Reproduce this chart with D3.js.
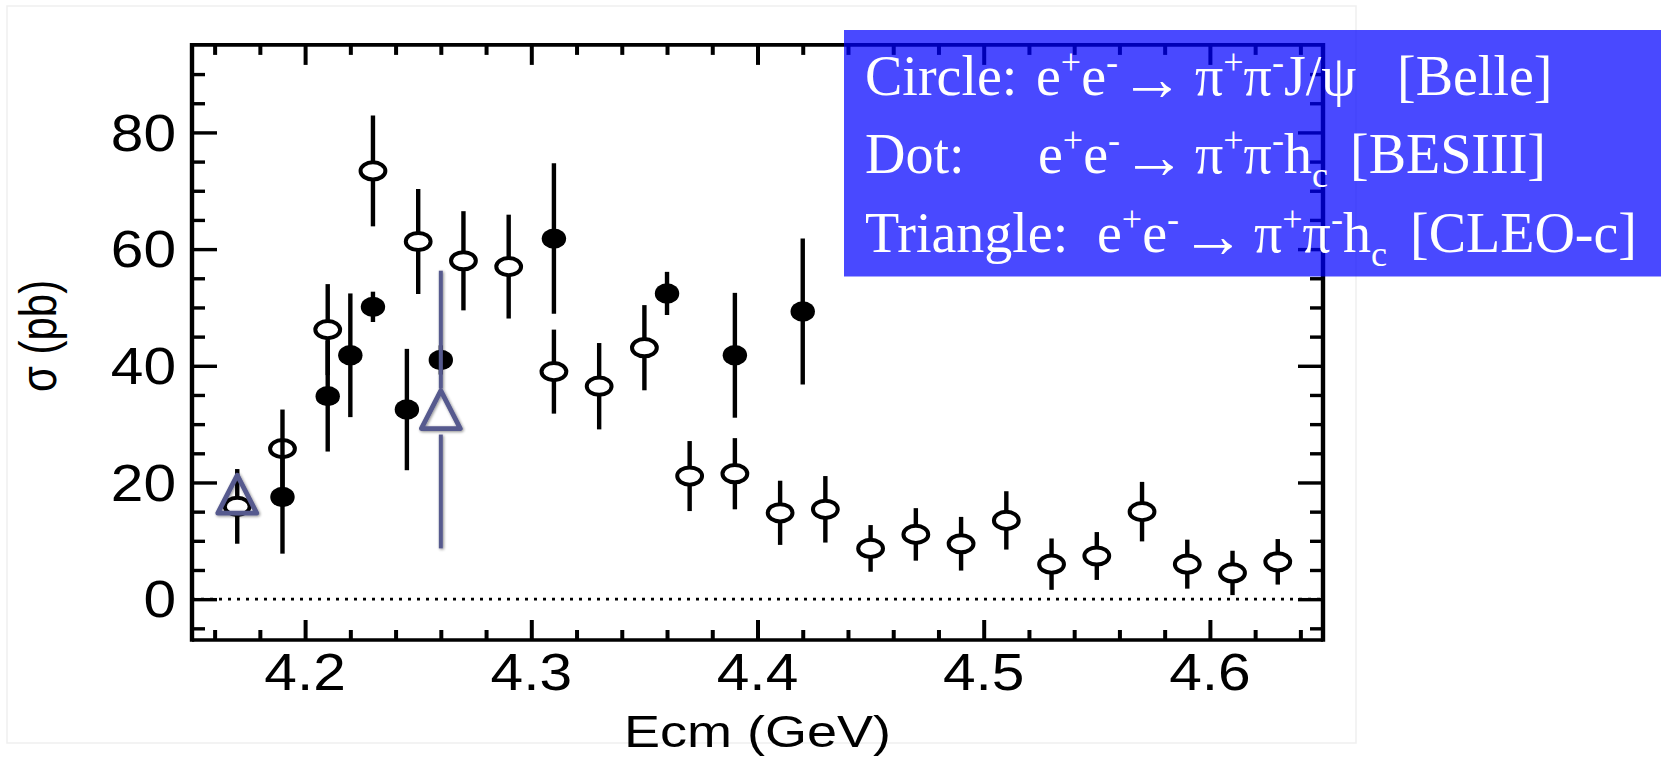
<!DOCTYPE html>
<html><head><meta charset="utf-8">
<script src="https://cdn.jsdelivr.net/npm/d3@7"></script>
<style>body{margin:0;background:#fff}svg{display:block}</style>
</head><body>
<svg id="c" width="1661" height="757"></svg>
<script>
// ---- data ----
const circleE     = [4.17,4.19,4.21,4.23,4.25,4.27,4.29,4.31,4.33,4.35,4.37,4.39,4.41,4.43,4.45,4.47,4.49,4.51,4.53,4.55,4.57,4.59,4.61,4.63];
const circleSigma = [15.9,25.8,46.2,73.4,61.3,58.0,57.0,39.0,36.5,43.1,21.1,21.5,14.8,15.4,8.7,11.1,9.5,13.5,6.0,7.4,15.0,6.0,4.5,6.4];
const circleErr   = [6.4,6.7,7.8,9.5,9.0,8.5,8.9,7.2,7.4,7.3,6.0,6.1,5.5,5.7,4.0,4.5,4.6,5.0,4.4,4.1,5.1,4.2,3.8,3.9];

const dotE     = [4.19,4.21,4.22,4.23,4.245,4.26,4.31,4.36,4.39,4.42];
const dotSigma = [17.5,34.8,41.8,50.1,32.5,41.0,61.8,52.4,41.8,49.3];
const dotErr   = [9.7,9.5,10.6,2.6,10.4,2.5,12.9,3.7,10.7,12.5];

const triE     = [4.17,4.26];
const triSigma = [18.0,32.5];
const triErr   = [2.0,23.8];

const xMajor = [4.2,4.3,4.4,4.5,4.6];
const xMinor = [4.16,4.18,4.22,4.24,4.26,4.28,4.32,4.34,4.36,4.38,4.42,4.44,4.46,4.48,4.52,4.54,4.56,4.58,4.62,4.64];
const yMajor = [0,20,40,60,80];
const yMinor = [-5,5,10,15,25,30,35,45,50,55,65,70,75,85,90];
const xLabels = ["4.2","4.3","4.4","4.5","4.6"];
const yLabels = ["0","20","40","60","80"];

const svg = d3.select("#c");
const L = 192, R = 1323, T = 44.9, B = 640;
const x = d3.scaleLinear().domain([4.15, 4.65]).range([L, R]);
const y = d3.scaleLinear().domain([-7, 95]).range([B, T]);

// faint slide border
svg.append("rect").attr("x",7).attr("y",6).attr("width",1349).attr("height",737)
  .attr("fill","none").attr("stroke","#efefef").attr("stroke-width",1.5);

const defs = svg.append("defs");
const f = defs.append("filter").attr("id","sh").attr("x","-30%").attr("y","-30%").attr("width","160%").attr("height","160%");
f.append("feGaussianBlur").attr("in","SourceAlpha").attr("stdDeviation",1.6).attr("result","b");
f.append("feOffset").attr("in","b").attr("dx",0.5).attr("dy",1).attr("result","o");
f.append("feComponentTransfer").attr("in","o").attr("result","o2")
  .append("feFuncA").attr("type","linear").attr("slope",0.45);
const fm = f.append("feMerge"); fm.append("feMergeNode").attr("in","o2"); fm.append("feMergeNode").attr("in","SourceGraphic");

// zero dotted line
svg.append("line").attr("x1",x(4.15)).attr("x2",x(4.65)).attr("y1",y(0)).attr("y2",y(0))
  .attr("stroke","#000").attr("stroke-width",2.6).attr("stroke-dasharray","3,6");

// axes (inward ticks on all four sides)
function axis(gen, tr, vals, size, sw){
  const g = svg.append("g").attr("transform",tr)
    .call(gen.tickValues(vals).tickSize(size).tickFormat(""));
  g.select(".domain").remove();
  g.selectAll(".tick line").attr("stroke","#000").attr("stroke-width",sw);
  return g;
}
axis(d3.axisBottom(x), `translate(0,${B})`, xMajor, -20, 4);
axis(d3.axisBottom(x), `translate(0,${B})`, xMinor, -10, 4);
axis(d3.axisTop(x), `translate(0,${T})`, xMajor, -20, 4);
axis(d3.axisTop(x), `translate(0,${T})`, xMinor, -10, 4);
axis(d3.axisLeft(y), `translate(${L},0)`, yMajor, -25, 3.4);
axis(d3.axisLeft(y), `translate(${L},0)`, yMinor, -13, 3.4);
axis(d3.axisRight(y), `translate(${R},0)`, yMajor, -25, 3.4);
axis(d3.axisRight(y), `translate(${R},0)`, yMinor, -13, 3.4);

// frame
const fr = svg.append("g").attr("stroke","#000");
fr.append("line").attr("x1",L).attr("x2",R).attr("y1",T).attr("y2",T).attr("stroke-width",3.6);
fr.append("line").attr("x1",L).attr("x2",R).attr("y1",B).attr("y2",B).attr("stroke-width",3.6);
fr.append("line").attr("x1",L).attr("x2",L).attr("y1",T-1.8).attr("y2",B+1.8).attr("stroke-width",4.4);
fr.append("line").attr("x1",R).attr("x2",R).attr("y1",T-1.8).attr("y2",B+1.8).attr("stroke-width",4.4);

// tick labels
const sans = "'Liberation Sans', Arial, Helvetica, sans-serif";
svg.append("g").selectAll("text").data(xMajor).join("text")
  .attr("transform", (d)=>`translate(${x(d)},690) scale(1.15,1)`)
  .attr("text-anchor","middle").attr("font-family",sans).attr("font-size",51)
  .text((d,i)=>xLabels[i]);
svg.append("g").selectAll("text").data(yMajor).join("text")
  .attr("transform", (d)=>`translate(176,${y(d)+18.2}) scale(1.15,1)`)
  .attr("text-anchor","end").attr("font-family",sans).attr("font-size",51)
  .text((d,i)=>yLabels[i]);

// axis titles
svg.append("text").attr("transform",`translate(${(L+R)/2},747) scale(1.2,1)`)
  .attr("text-anchor","middle").attr("font-family",sans).attr("font-size",45).text("Ecm (GeV)");
svg.append("text").attr("transform",`translate(56,336) scale(1.22,1) rotate(-90)`)
  .attr("text-anchor","middle").attr("font-family",sans).attr("font-size",42).text("σ (pb)");

// ---- markers ----
const cRx = 12.4, cRy = 8.6, dRx = 12.2, dRy = 10.2;
const circles = circleE.map((e,i)=>({e, s:circleSigma[i], err:circleErr[i]}));
const dots = dotE.map((e,i)=>({e, s:dotSigma[i], err:dotErr[i]}));
const tris = triE.map((e,i)=>({e, s:triSigma[i], err:triErr[i]}));

const gc = svg.append("g");
gc.selectAll("line").data(circles).join("line")
  .attr("x1",d=>x(d.e)).attr("x2",d=>x(d.e)).attr("y1",d=>y(d.s+d.err)).attr("y2",d=>y(d.s-d.err))
  .attr("stroke","#000").attr("stroke-width",4.4);
gc.selectAll("ellipse").data(circles).join("ellipse")
  .attr("cx",d=>x(d.e)).attr("cy",d=>y(d.s)).attr("rx",cRx).attr("ry",cRy)
  .attr("fill","#fff").attr("stroke","#000").attr("stroke-width",4);

const gd = svg.append("g");
gd.selectAll("line").data(dots).join("line")
  .attr("x1",d=>x(d.e)).attr("x2",d=>x(d.e)).attr("y1",d=>y(d.s+d.err)).attr("y2",d=>y(d.s-d.err))
  .attr("stroke","#000").attr("stroke-width",4.4);
gd.selectAll("ellipse").data(dots).join("ellipse")
  .attr("cx",d=>x(d.e)).attr("cy",d=>y(d.s)).attr("rx",dRx).attr("ry",dRy).attr("fill","#000");

const triCol = "#575A8E", th = 21;
const gt = svg.append("g").attr("filter","url(#sh)");
tris.forEach(d=>{
  const cx = x(d.e), cy = y(d.s);
  if (y(d.s+d.err) < cy - th) gt.append("line").attr("x1",cx).attr("x2",cx).attr("y1",y(d.s+d.err)).attr("y2",cy-th)
    .attr("stroke",triCol).attr("stroke-width",4);
  if (y(d.s-d.err) > cy + th) gt.append("line").attr("x1",cx).attr("x2",cx).attr("y1",cy+th+4).attr("y2",y(d.s-d.err))
    .attr("stroke",triCol).attr("stroke-width",4);
});
gt.selectAll("path").data(tris).join("path")
  .attr("d",d=>{const cx=x(d.e), cy=y(d.s); return `M${cx},${cy-19} L${cx+19.5},${cy+19} L${cx-19.5},${cy+19} Z`;})
  .attr("fill","none").attr("stroke",triCol).attr("stroke-width",4.8).attr("stroke-linejoin","round");

// ---- legend box ----
svg.append("rect").attr("x",844).attr("y",30).attr("width",817).attr("height",246.5)
  .attr("fill","#0000ff").attr("fill-opacity",0.714);
const lg = svg.append("g").attr("font-family","'Liberation Serif', 'Times New Roman', serif")
  .attr("font-size",56).attr("fill","#fff");
function richLine(yb, segs){
  const t = lg.append("text").attr("y",yb);
  let cur = 0;
  segs.forEach(s=>{
    const shift = s.sup ? -21 : (s.sub ? 14 : (s.arrow ? 5 : 0));
    const ts = t.append("tspan").text(s.t).attr("dy", shift-cur);
    cur = shift;
    if (s.x != null) ts.attr("x", s.x);
    if (s.sup || s.sub) ts.attr("font-size", 36);
    if (s.arrow) ts.attr("font-size", 64).attr("dx", 2);
  });
}
richLine(95, [{t:"Circle:",x:865},{t:"e",x:1036},{t:"+",sup:1},{t:"e"},{t:"-",sup:1},{t:"→",arrow:1},
  {t:"π",x:1195},{t:"+",sup:1},{t:"π"},{t:"-",sup:1},{t:"J/ψ"},{t:"[Belle]",x:1397}]);
richLine(172.7, [{t:"Dot:",x:865},{t:"e",x:1038},{t:"+",sup:1},{t:"e"},{t:"-",sup:1},{t:"→",arrow:1},
  {t:"π",x:1195},{t:"+",sup:1},{t:"π"},{t:"-",sup:1},{t:"h"},{t:"c",sub:1},{t:"[BESIII]",x:1350}]);
richLine(251.7, [{t:"Triangle:",x:865},{t:"e",x:1097},{t:"+",sup:1},{t:"e"},{t:"-",sup:1},{t:"→",arrow:1},
  {t:"π",x:1254},{t:"+",sup:1},{t:"π"},{t:"-",sup:1},{t:"h"},{t:"c",sub:1},{t:"[CLEO-c]",x:1410}]);
</script>
</body></html>
